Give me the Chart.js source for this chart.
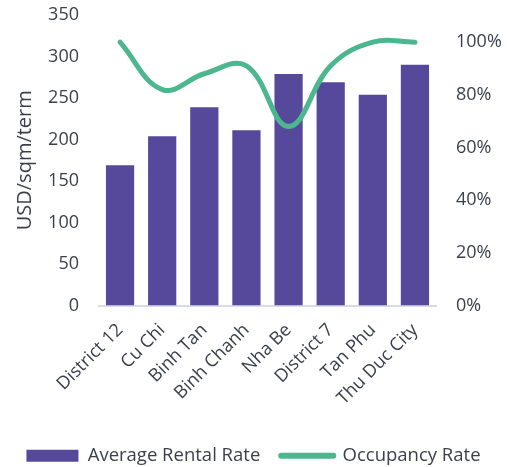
<!DOCTYPE html>
<html>
<head>
<meta charset="utf-8">
<script src="https://cdn.jsdelivr.net/npm/chart.js@4"></script>
<style>
html,body{margin:0;padding:0;background:#fff;}
#wrap{width:518px;height:467px;position:relative;}
</style>
</head>
<body>
<div id="wrap"><canvas id="c" width="518" height="467"></canvas></div>
<script>
const categories = ["District 12","Cu Chi","Binh Tan","Binh Chanh","Nha Be","District 7","Tan Phu","Thu Duc City"];
const rentalRate = [169, 204, 239, 211, 279, 269, 254, 290];
const occupancyRate = [100, 82, 88, 91, 68, 91, 100, 100];
const leftTicks = [0, 50, 100, 150, 200, 250, 300, 350];
const rightTicks = [0, 20, 40, 60, 80, 100];

const textColor = '#3b3f4c';
const barColor = '#56499b';
const lineColor = '#4cb78f';
const font = "'Open Sans', sans-serif";

const shiftLegend = {
  id: 'shiftLegend',
  afterLayout(chart) {
    chart.legend.left -= 12;
    chart.legend.right -= 12;
  }
};

new Chart(document.getElementById('c'), {
  plugins: [shiftLegend],
  data: {
    labels: categories,
    datasets: [
      {
        type: 'line',
        label: 'Occupancy Rate',
        data: occupancyRate,
        yAxisID: 'y1',
        borderColor: lineColor,
        backgroundColor: lineColor,
        borderWidth: 5,
        borderCapStyle: 'round',
        pointRadius: 0,
        tension: 0.4,
        order: 0
      },
      {
        type: 'bar',
        label: 'Average Rental Rate',
        data: rentalRate,
        yAxisID: 'y',
        backgroundColor: barColor,
        categoryPercentage: 1,
        barPercentage: 0.67,
        order: 1
      }
    ]
  },
  options: {
    responsive: false,
    animation: false,
    layout: { padding: { top: 15, right: 0, left: 13, bottom: -8 } },
    plugins: {
      tooltip: { enabled: false },
      legend: {
        position: 'bottom',
        labels: {
          color: textColor,
          font: { family: font, size: 18.5 },
          usePointStyle: true,
          pointStyleWidth: 52,
          boxHeight: 12,
          padding: 21,
          generateLabels: (chart) => [
            { text: 'Average Rental Rate', fillStyle: barColor, strokeStyle: barColor, lineWidth: 0, pointStyle: 'rect', fontColor: textColor, datasetIndex: 1 },
            { text: 'Occupancy Rate', fillStyle: lineColor, strokeStyle: lineColor, lineWidth: 6, lineCap: 'round', pointStyle: 'line', fontColor: textColor, datasetIndex: 0 }
          ]
        }
      }
    },
    scales: {
      x: {
        grid: { display: false, drawTicks: false },
        border: { display: true, color: '#d9dbe9', width: 2 },
        title: { display: true, text: '', font: { size: 1 }, padding: { top: 1, bottom: 0 } },
        ticks: {
          color: textColor,
          font: { family: font, size: 18 },
          maxRotation: 45,
          minRotation: 45,
          padding: 14
        }
      },
      y: {
        position: 'left',
        min: 0,
        max: 350,
        afterBuildTicks: (s) => { s.ticks = leftTicks.map(v => ({ value: v })); },
        afterFit: (s) => { s.width = 86; s.paddingTop = 0; s.paddingBottom = 0; },
        grid: { display: false, drawTicks: false },
        border: { display: false },
        title: { display: true, text: 'USD/sqm/term', color: textColor, font: { family: font, size: 20 }, padding: { top: 0, bottom: 11 } },
        ticks: { color: textColor, font: { family: font, size: 18 }, padding: 20 }
      },
      y1: {
        position: 'right',
        min: 0,
        max: 110.3,
        afterBuildTicks: (s) => { s.ticks = rightTicks.map(v => ({ value: v })); },
        afterFit: (s) => { s.width = 82; s.paddingTop = 0; s.paddingBottom = 0; },
        grid: { display: false, drawTicks: false },
        border: { display: false },
        ticks: { color: textColor, font: { family: font, size: 18 }, padding: 20, callback: (v) => v + '%' }
      }
    }
  }
});
</script>
</body>
</html>
